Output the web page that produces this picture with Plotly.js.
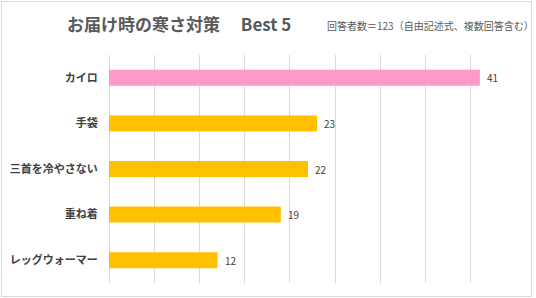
<!DOCTYPE html>
<html>
<head>
<meta charset="utf-8">
<script src="https://cdn.plot.ly/plotly-3.0.1.min.js"></script>
<style>
html,body{margin:0;padding:0;background:#fff;}
#wrap{position:relative;width:536px;height:298px;}
#chart{position:absolute;left:0;top:0;width:536px;height:298px;}
#frame{position:absolute;left:1px;top:1px;width:529px;height:294px;border:1px solid #d9d9d9;pointer-events:none;}
</style>
</head>
<body>
<div id="wrap"><div id="chart"></div><div id="frame"></div></div>
<script>
const categories = ["カイロ", "手袋", "三首を冷やさない", "重ね着", "レッグウォーマー"];
const values = [41, 23, 22, 19, 12];
const barColors = ["#FF99CC", "#FFC000", "#FFC000", "#FFC000", "#FFC000"];
const titleText = "お届け時の寒さ対策　 Best 5";
const subtitleText = "回答者数＝123（自由記述式、複数回答含む）";

const font = '"Noto Sans CJK JP", "Noto Sans", sans-serif';

const L = 109, R = 20, T = 55, B = 15, W = 536, H = 298;
const pw = W - L - R, ph = H - T - B;

const annotations = categories.map((c, i) => ({
  x: values[i], y: c, xref: 'x', yref: 'y',
  text: String(values[i]), showarrow: false,
  xanchor: 'left', xshift: 5,
  font: {family: font, size: 10, color: '#404040'}
}));
annotations.push({
  x: (325 - L) / pw, y: (H - B - 26) / ph, xref: 'paper', yref: 'paper',
  text: subtitleText, showarrow: false, xanchor: 'left', yanchor: 'middle',
  font: {family: font, size: 10, color: '#595959'}
});

Plotly.newPlot('chart', [{
  type: 'bar', orientation: 'h',
  x: values, y: categories,
  marker: {color: barColors},
  hoverinfo: 'none'
}], {
  width: W, height: H,
  margin: {l: L, r: R, t: T, b: B, pad: 0},
  paper_bgcolor: '#fff', plot_bgcolor: '#fff',
  bargap: 0.65,
  showlegend: false,
  title: {
    text: titleText, x: 67/536, xanchor: 'left', xref: 'container',
    y: 1 - 25/298, yanchor: 'middle', yref: 'container',
    font: {family: font, size: 17, color: '#595959', weight: 'bold'}
  },
  xaxis: {
    range: [0, 45], dtick: 5, tick0: 0,
    showticklabels: false, showgrid: true, gridcolor: '#d9d9d9', gridwidth: 1,
    zeroline: true, zerolinecolor: '#d9d9d9', zerolinewidth: 1,
    showline: false, fixedrange: true
  },
  yaxis: {
    autorange: 'reversed', type: 'category',
    showgrid: false, zeroline: false, showline: false,
    ticks: 'outside', ticklen: 8, tickcolor: 'rgba(0,0,0,0)',
    tickfont: {family: font, size: 11, color: '#404040', weight: 'bold'}
  },
  annotations: annotations
}, {staticPlot: true});
</script>
</body>
</html>
